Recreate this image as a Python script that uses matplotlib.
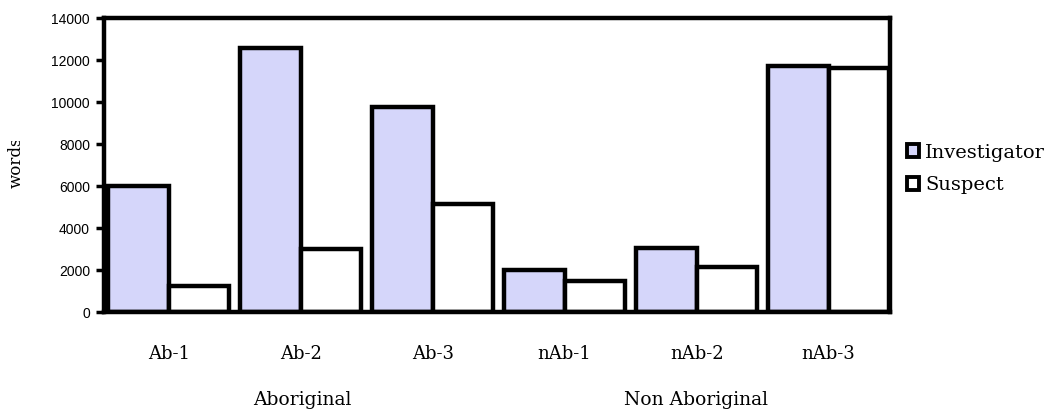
import matplotlib
matplotlib.use("Agg")
import matplotlib.pyplot as plt
from matplotlib.transforms import Bbox
from matplotlib.patches import Patch
import numpy as np

categories = ["Ab-1", "Ab-2", "Ab-3", "nAb-1", "nAb-2", "nAb-3"]
groups = ["Aboriginal", "Non Aboriginal"]
investigator = [6000, 12550, 9750, 2000, 3040, 11700]
suspect = [1260, 2980, 5120, 1500, 2120, 11610]
yticks = [0, 2000, 4000, 6000, 8000, 10000, 12000, 14000]

fill = "#D5D6FA"
serif = "DejaVu Serif"
lw = 3.2

fig = plt.figure(figsize=(10.5, 4.13), dpi=100)
ax = fig.add_axes([104 / 1050, 1 - 312 / 413, (890 - 104) / 1050, (312 - 18) / 413])

x = np.arange(len(categories))
w = 0.46
ax.bar(x - w / 2, investigator, width=w, color=fill, edgecolor="black", linewidth=lw, label="Investigator")
ax.bar(x + w / 2, suspect, width=w, color="white", edgecolor="black", linewidth=lw, label="Suspect")

ax.set_xlim(-0.49, 5.465)
ax.set_ylim(0, 14000)
ax.set_yticks(yticks)
ax.set_yticklabels([str(v) for v in yticks], family="Liberation Sans", fontsize=10)
ax.tick_params(axis="y", length=6, width=2.5, pad=4)
ax.set_xticks(x)
ax.set_xticklabels(categories, family=serif, fontsize=13)
ax.tick_params(axis="x", length=0, pad=24)
for s in ax.spines.values():
    s.set_linewidth(lw)

# group labels
fig.text(302 / 1050, 1 - 400 / 413, groups[0], family=serif, fontsize=13.5, ha="center", va="center")
fig.text(696 / 1050, 1 - 400 / 413, groups[1], family=serif, fontsize=13.5, ha="center", va="center")

# y label (clipped at the top as in the reference)
t = fig.text(16 / 1050, 1 - 188 / 413, "words", family=serif, fontsize=12, rotation=90,
             ha="center", va="bottom")
t.set_clip_box(Bbox([[0, 0], [60, 413 - 141]]))
t.set_clip_on(True)

handles = [Patch(facecolor=fill, edgecolor="black", linewidth=2.8),
           Patch(facecolor="white", edgecolor="black", linewidth=2.8)]
leg = fig.legend(handles, ["Investigator", "Suspect"], loc="center left",
                 bbox_to_anchor=(899 / 1050, 1 - 169 / 413), frameon=False,
                 prop={"family": serif, "size": 14}, handlelength=0.65, handleheight=0.65,
                 handletextpad=0.3, labelspacing=0.75, borderaxespad=0)

fig.savefig("out.png", dpi=100)
